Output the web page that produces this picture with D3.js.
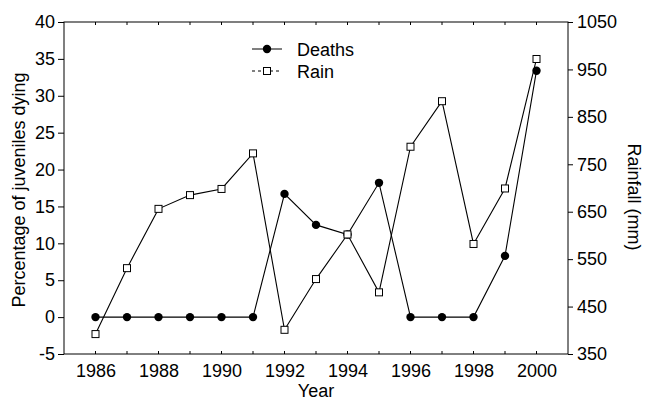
<!DOCTYPE html>
<html>
<head>
<meta charset="utf-8">
<script src="https://cdn.jsdelivr.net/npm/d3@7"></script>
<style>
  body { margin: 0; background: #fff; }
  text { font-family: "Liberation Sans", Arial, sans-serif; fill: #000; }
</style>
</head>
<body>
<div id="chart"></div>
<script>
// data
const years = [1986, 1987, 1988, 1989, 1990, 1991, 1992, 1993, 1994, 1995, 1996, 1997, 1998, 1999, 2000];
const deaths = [0, 0, 0, 0, 0, 0, 16.7, 12.5, 11.2, 18.2, 0, 0, 0, 8.3, 33.4];
const rain = [392, 531, 656, 685, 698, 773, 401, 508, 602, 480, 787, 883, 582, 699, 972];
const leftTicks = [-5, 0, 5, 10, 15, 20, 25, 30, 35, 40];
const rightTicks = [350, 450, 550, 650, 750, 850, 950, 1050];
const yearLabels = [1986, 1988, 1990, 1992, 1994, 1996, 1998, 2000];

const width = 645, height = 403;
const margin = {top: 22, right: 77, bottom: 49, left: 64};
const fs = '18px';

const svg = d3.select('#chart').append('svg')
  .attr('width', width)
  .attr('height', height);

const x = d3.scaleLinear().domain([1985, 2001]).range([margin.left, width - margin.right]);
const yL = d3.scaleLinear().domain([-5, 40]).range([height - margin.bottom, margin.top]);
const yR = d3.scaleLinear().domain([350, 1050]).range([height - margin.bottom, margin.top]);

const allYears = d3.range(1986, 2001);
const plain = d => String(d);

// frame
svg.append('rect')
  .attr('x', margin.left).attr('y', margin.top)
  .attr('width', width - margin.left - margin.right)
  .attr('height', height - margin.top - margin.bottom)
  .attr('fill', 'none').attr('stroke', '#000').attr('stroke-width', 1);

// bottom axis labels, ticks drawn inward below
let gB = svg.append('g').attr('transform', 'translate(0,' + (height - margin.bottom) + ')')
  .call(d3.axisBottom(x).tickValues(yearLabels).tickFormat(plain).tickSize(0).tickPadding(10));
gB.select('.domain').remove();
gB.selectAll('text').style('font-size', fs);
svg.append('g').selectAll('line').data(allYears).enter().append('line')
  .attr('x1', d => x(d)).attr('x2', d => x(d))
  .attr('y1', height - margin.bottom).attr('y2', height - margin.bottom - 3)
  .attr('stroke', '#000');

// top ticks inward
svg.append('g').selectAll('line').data(allYears).enter().append('line')
  .attr('x1', d => x(d)).attr('x2', d => x(d))
  .attr('y1', margin.top).attr('y2', margin.top + 3)
  .attr('stroke', '#000');

// left axis
let gL = svg.append('g').attr('transform', 'translate(' + margin.left + ',0)')
  .call(d3.axisLeft(yL).tickValues(leftTicks).tickFormat(plain).tickSize(6).tickPadding(3));
gL.select('.domain').remove();
gL.selectAll('text').style('font-size', fs);

// right axis
let gR = svg.append('g').attr('transform', 'translate(' + (width - margin.right) + ',0)')
  .call(d3.axisRight(yR).tickValues(rightTicks).tickFormat(plain).tickSize(5).tickPadding(4));
gR.select('.domain').remove();
gR.selectAll('text').style('font-size', fs);

// axis titles
const midY = margin.top + (height - margin.top - margin.bottom) / 2;
svg.append('text')
  .attr('transform', 'translate(25,' + (midY + 2) + ') rotate(-90)')
  .attr('text-anchor', 'middle').style('font-size', fs)
  .text('Percentage of juveniles dying');

svg.append('text')
  .attr('transform', 'translate(628,' + (midY + 9) + ') rotate(90)')
  .attr('text-anchor', 'middle').style('font-size', fs)
  .text('Rainfall (mm)');

svg.append('text')
  .attr('x', margin.left + (width - margin.left - margin.right) / 2)
  .attr('y', 397)
  .attr('text-anchor', 'middle').style('font-size', fs)
  .text('Year');

// deaths series
const deathLine = d3.line().x((d, i) => x(years[i])).y(d => yL(d));
svg.append('path').datum(deaths)
  .attr('d', deathLine).attr('fill', 'none').attr('stroke', '#000').attr('stroke-width', 1.1);
svg.append('g').selectAll('circle').data(deaths).enter().append('circle')
  .attr('cx', (d, i) => x(years[i])).attr('cy', d => yL(d))
  .attr('r', 4.2).attr('fill', '#000');

// rain series (drawn on top)
const rainLine = d3.line().x((d, i) => x(years[i])).y(d => yR(d));
svg.append('path').datum(rain)
  .attr('d', rainLine).attr('fill', 'none').attr('stroke', '#000').attr('stroke-width', 1.1);
svg.append('g').selectAll('rect').data(rain).enter().append('rect')
  .attr('x', (d, i) => x(years[i]) - 3.5).attr('y', d => yR(d) - 3.5)
  .attr('width', 7).attr('height', 7)
  .attr('fill', '#fff').attr('stroke', '#000').attr('stroke-width', 1);

// legend
const leg = svg.append('g');
leg.append('line').attr('x1', 252).attr('x2', 282).attr('y1', 49).attr('y2', 49).attr('stroke', '#000');
leg.append('circle').attr('cx', 267).attr('cy', 49).attr('r', 4.2).attr('fill', '#000');
leg.append('text').attr('x', 297).attr('y', 55.5).style('font-size', fs).text('Deaths');

leg.append('line').attr('x1', 252).attr('x2', 282).attr('y1', 71).attr('y2', 71)
  .attr('stroke', '#000').attr('stroke-dasharray', '3,3');
leg.append('rect').attr('x', 263.5).attr('y', 67.5).attr('width', 7).attr('height', 7)
  .attr('fill', '#fff').attr('stroke', '#000');
leg.append('text').attr('x', 297).attr('y', 77.5).style('font-size', fs).text('Rain');
</script>
</body>
</html>
